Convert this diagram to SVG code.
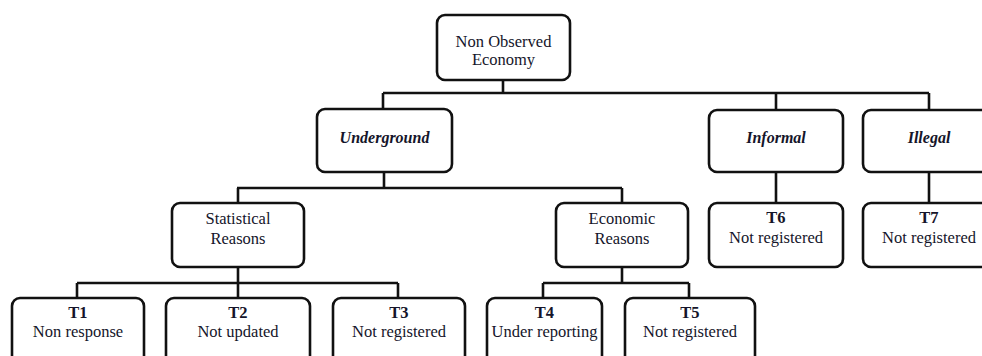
<svg xmlns="http://www.w3.org/2000/svg" width="982" height="356" viewBox="0 0 982 356">
<style>
.box{fill:#fff;stroke:#111;stroke-width:2.6}
.ln{fill:none;stroke:#111;stroke-width:2.6}
text{font-family:"Liberation Serif","Times New Roman",serif;font-size:16.5px;fill:#15152a;text-anchor:middle}
.it{font-style:italic;font-weight:bold;font-size:16px}
.b{font-weight:bold}
</style>
<rect width="982" height="356" fill="#fff"/>
<g id="connectors">
<path class="ln" d="M503,80V93M383,93H929M383,93V109M776,93V110M929,93V110"/>
<path class="ln" d="M384,172V188M237,188H622M238,188V203M622,188V203"/>
<path class="ln" d="M238,267V283M77,283H398M77,283V298M238,283V298M398,283V298"/>
<path class="ln" d="M622,267V283M543,283H689M543,283V298M689,283V298"/>
<path class="ln" d="M776,172V203M929,172V203"/>
</g>
<g id="root"><rect class="box" x="437" y="15" width="133" height="65" rx="8"/><text x="503.5" y="47">Non Observed</text><text x="503.5" y="65">Economy</text></g>
<g id="underground"><rect class="box" x="317" y="109" width="135" height="63" rx="8"/><text class="it" x="384.5" y="143">Underground</text></g>
<g id="informal"><rect class="box" x="709" y="110" width="134" height="62" rx="8"/><text class="it" x="776" y="143">Informal</text></g>
<g id="illegal"><rect class="box" x="863" y="110" width="132" height="62" rx="8"/><text class="it" x="929" y="143">Illegal</text></g>
<g id="statistical"><rect class="box" x="172" y="203" width="132" height="64" rx="8"/><text x="238" y="224">Statistical</text><text x="238" y="244">Reasons</text></g>
<g id="economic"><rect class="box" x="556" y="203" width="132" height="64" rx="8"/><text x="622" y="224">Economic</text><text x="622" y="244">Reasons</text></g>
<g id="t6"><rect class="box" x="709" y="203" width="134" height="64" rx="8"/><text class="b" x="776" y="223">T6</text><text x="776" y="243">Not registered</text></g>
<g id="t7"><rect class="box" x="863" y="203" width="132" height="64" rx="8"/><text class="b" x="929" y="223">T7</text><text x="929" y="243">Not registered</text></g>
<g id="t1"><rect class="box" x="12" y="298" width="132" height="66" rx="8"/><text class="b" x="78" y="318">T1</text><text x="78" y="337">Non response</text></g>
<g id="t2"><rect class="box" x="166" y="298" width="144" height="66" rx="8"/><text class="b" x="238" y="318">T2</text><text x="238" y="337">Not updated</text></g>
<g id="t3"><rect class="box" x="333" y="298" width="132" height="66" rx="8"/><text class="b" x="399" y="318">T3</text><text x="399" y="337">Not registered</text></g>
<g id="t4"><rect class="box" x="487" y="298" width="115" height="66" rx="8"/><text class="b" x="544.5" y="318">T4</text><text x="544.5" y="337">Under reporting</text></g>
<g id="t5"><rect class="box" x="625" y="298" width="130" height="66" rx="8"/><text class="b" x="690" y="318">T5</text><text x="690" y="337">Not registered</text></g>
</svg>
